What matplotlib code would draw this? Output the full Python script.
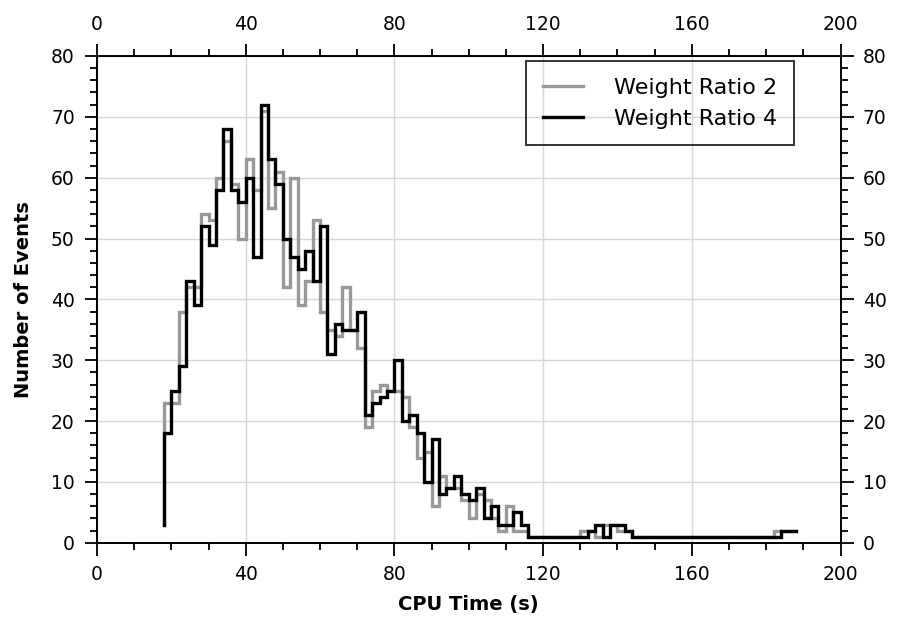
import numpy as np
import matplotlib
matplotlib.use("Agg")
import matplotlib.pyplot as plt
from matplotlib.ticker import MultipleLocator

# ---- data: histogram of CPU time, 2 s bins starting at 18 s ---------------
bin_edges = np.arange(18, 190, 2)

ratio2_start = 3
ratio2_counts = [
    23, 23, 38, 42, 42, 54, 53, 60, 66, 59,
    50, 63, 58, 71, 55, 61, 42, 60, 39, 43,
    53, 38, 35, 34, 42, 35, 32, 19, 25, 26,
    25, 25, 24, 19, 14, 15, 6, 11, 9, 9,
    7, 4, 8, 7, 4, 2, 6, 2, 2,
    1, 1, 1, 1, 1, 1, 1,
    2, 2, 1, 3, 3, 2, 2,
    1, 1, 1, 1, 1, 1, 1, 1, 1, 1, 1, 1, 1, 1, 1, 1, 1, 1, 1,
    2, 2, 2,
]

ratio4_start = 3
ratio4_counts = [
    18, 25, 29, 43, 39, 52, 49, 58, 68, 58,
    56, 60, 47, 72, 63, 59, 50, 47, 45, 48,
    43, 52, 31, 36, 35, 35, 38, 21, 23, 24,
    25, 30, 20, 21, 18, 10, 17, 8, 9, 11,
    8, 7, 9, 4, 6, 3, 3, 5, 3,
    1, 1, 1, 1, 1, 1, 1, 1,
    2, 3, 1, 3, 3, 2,
    1, 1, 1, 1, 1, 1, 1, 1, 1, 1, 1, 1, 1, 1, 1, 1, 1, 1, 1, 1,
    2, 2,
]

labels = ["Weight Ratio 2", "Weight Ratio 4"]
colors = ["#999999", "#000000"]

plt.rcParams["font.family"] = "DejaVu Sans"

fig = plt.figure(figsize=(8.98, 6.29), dpi=100)
ax = fig.add_axes([0.108, 0.137, 0.828, 0.774])

series = [[ratio2_start] + ratio2_counts, [ratio4_start] + ratio4_counts]
for ys, lab, col in zip(series, labels, colors):
    ax.step(bin_edges, ys, where="pre", color=col, lw=2.4, label=lab,
            solid_joinstyle="miter", zorder=3)

ax.set_xlim(0, 200)
ax.set_ylim(0, 80)
ax.xaxis.set_major_locator(MultipleLocator(40))
ax.xaxis.set_minor_locator(MultipleLocator(10))
ax.yaxis.set_major_locator(MultipleLocator(10))
ax.yaxis.set_minor_locator(MultipleLocator(2))

ax.grid(True, which="major", color="#d6d6d6", lw=1.0, zorder=0)
ax.tick_params(which="both", direction="out", top=True, right=True,
               labeltop=True, labelright=True, width=1.3, labelsize=13.5,
               pad=7)
ax.tick_params(which="major", length=9)
ax.tick_params(which="minor", length=5)
for sp in ax.spines.values():
    sp.set_linewidth(1.4)

ax.set_xlabel("CPU Time (s)", fontsize=14, fontweight="bold", labelpad=8)
ax.set_ylabel("Number of Events", fontsize=14, fontweight="bold", labelpad=13)

leg = ax.legend(loc="upper right", bbox_to_anchor=(0.937, 0.99), fontsize=16,
                fancybox=False, facecolor="none", edgecolor="black",
                handlelength=1.8, handletextpad=1.4, borderpad=0.75,
                labelspacing=0.5, borderaxespad=0)
leg.get_frame().set_linewidth(1.4)

fig.savefig("out.png", dpi=100)
